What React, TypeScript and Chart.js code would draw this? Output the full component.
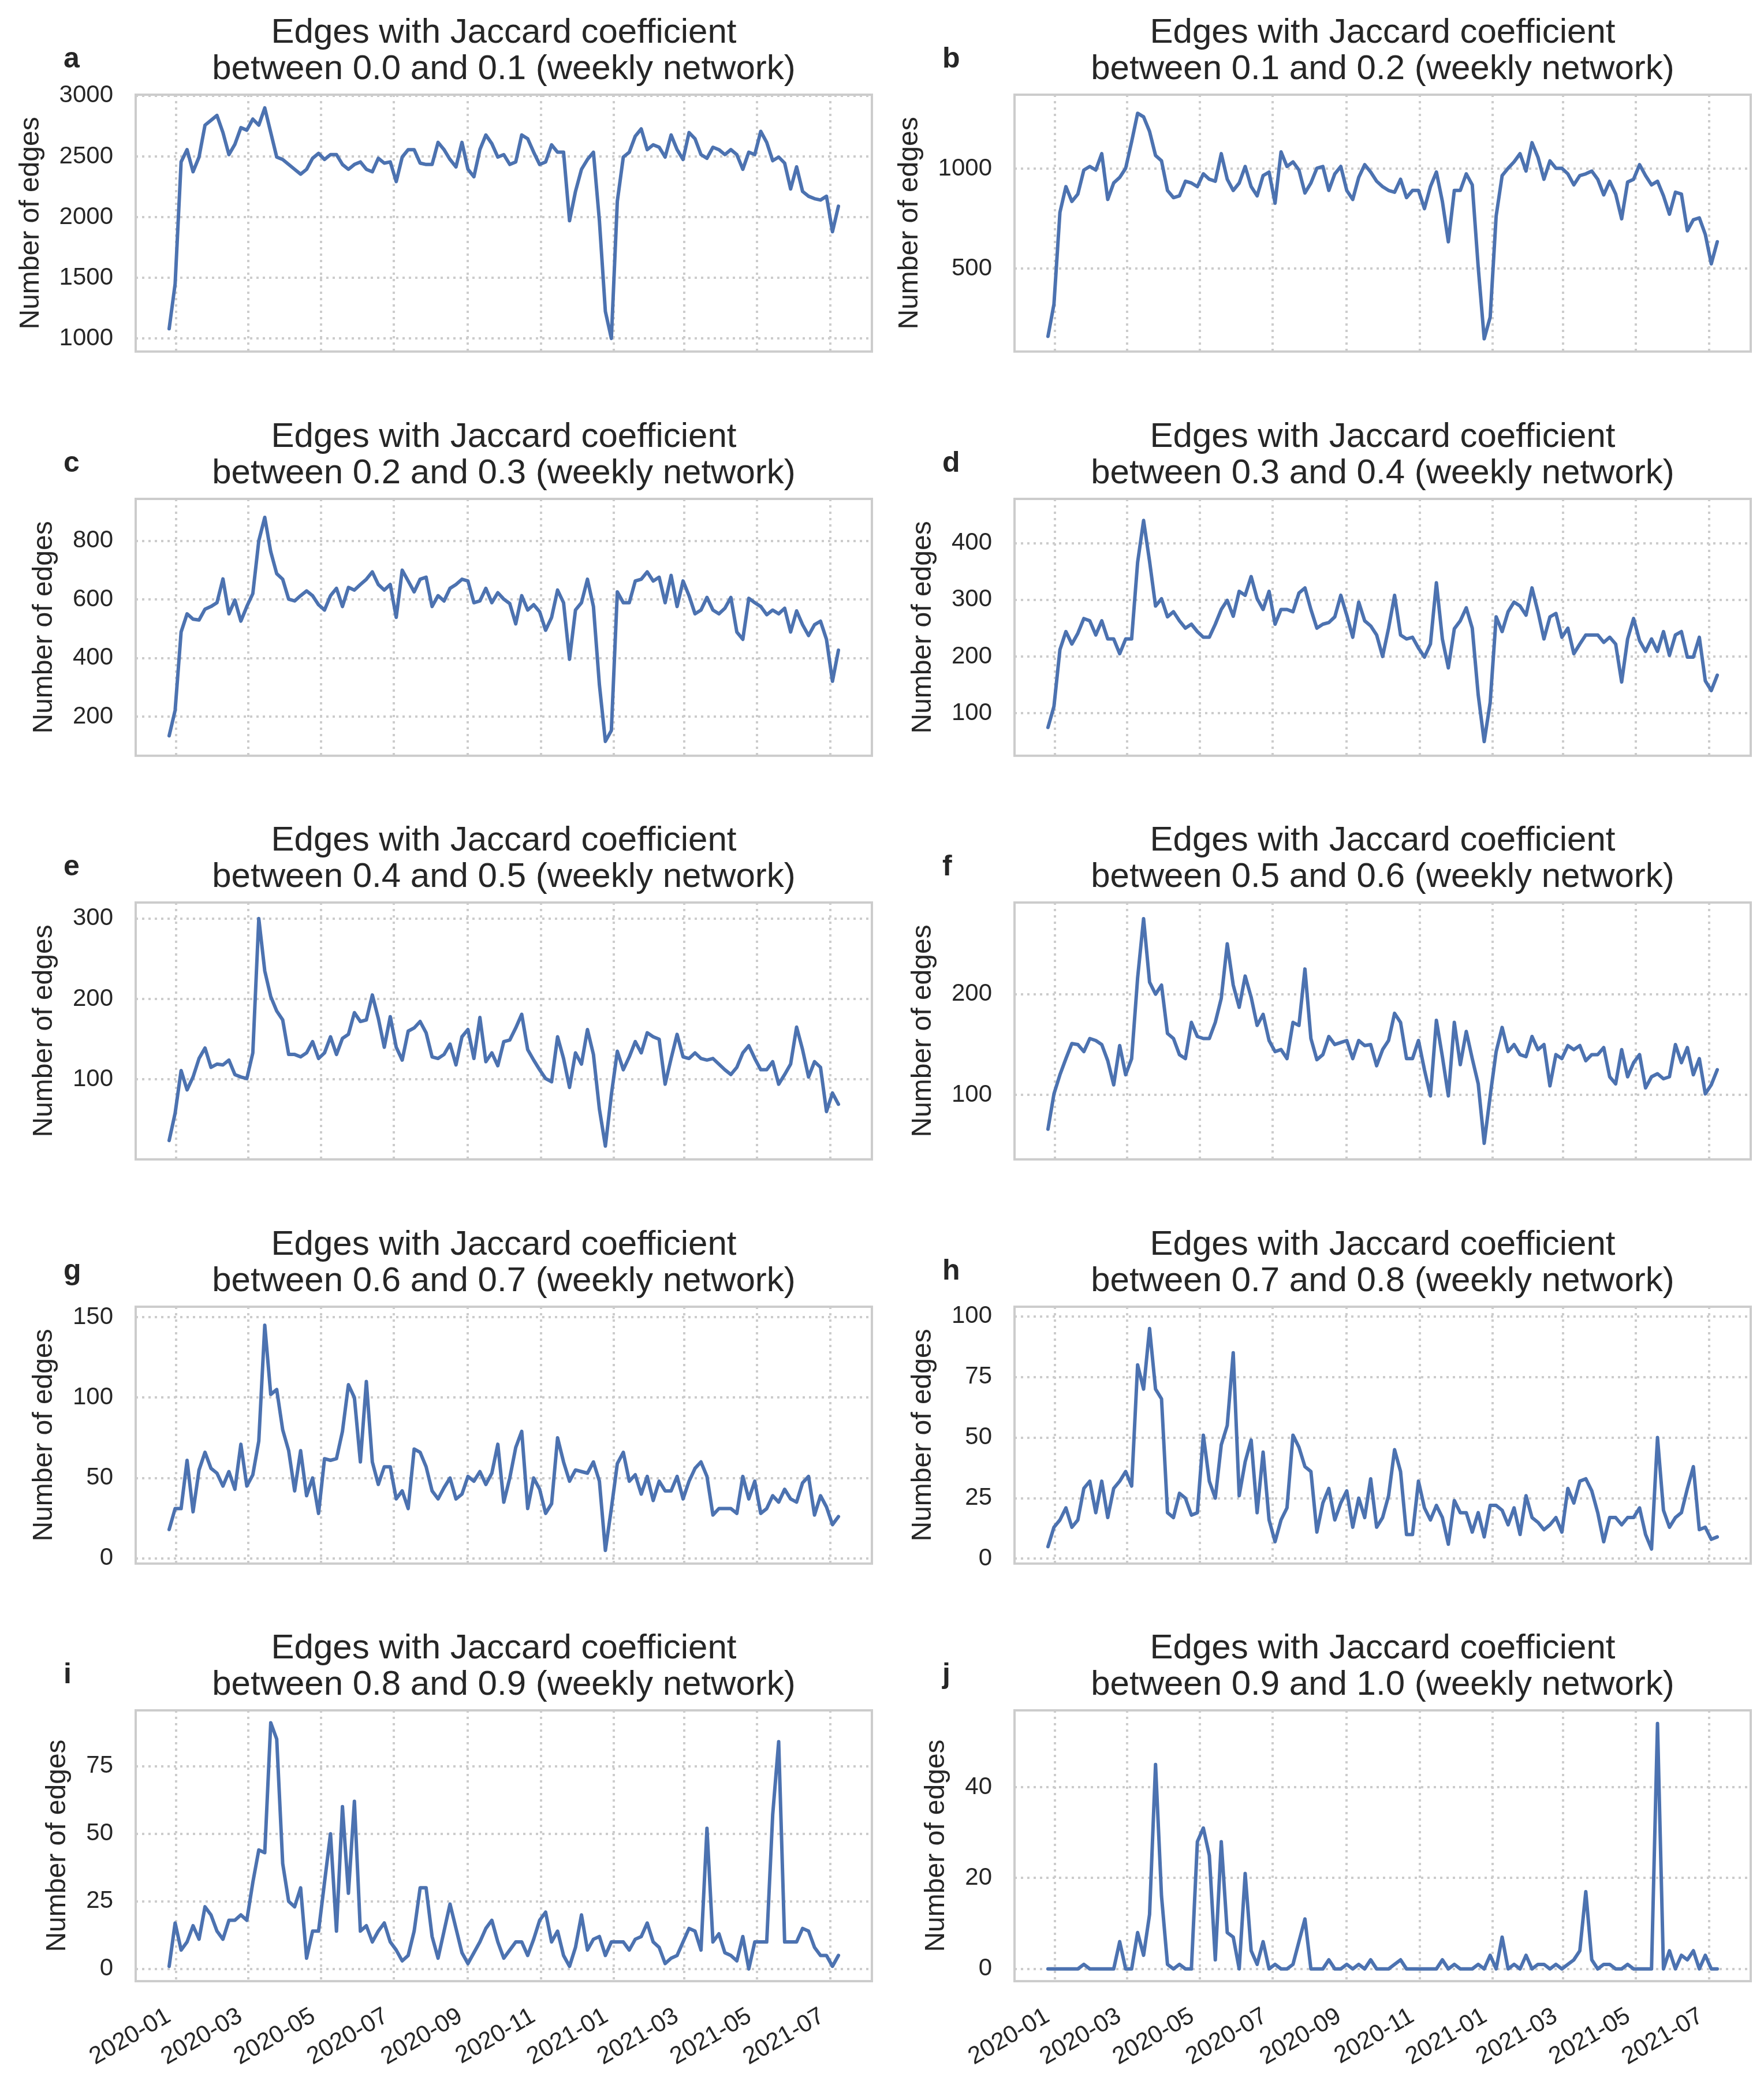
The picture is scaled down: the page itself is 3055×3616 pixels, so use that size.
import { useEffect, useRef } from "react";
import { Chart, registerables } from "chart.js";

Chart.register(...registerables);

// every 5th day of the daily series, starting 26 Dec 2019
const FIRST_DATE = "2019-12-26";
const STEP_DAYS = 5;

const xTickLabels = [
  "2020-01", "2020-03", "2020-05", "2020-07", "2020-09",
  "2020-11", "2021-01", "2021-03", "2021-05", "2021-07",
];

const panelLetters = ["a", "b", "c", "d", "e", "f", "g", "h", "i", "j"];
const binEdges = ["0.0", "0.1", "0.2", "0.3", "0.4", "0.5", "0.6", "0.7", "0.8", "0.9", "1.0"];

const jaccard00to01 = [
  1080, 1450, 2455, 2556, 2374, 2495, 2758, 2798, 2838, 2697,
  2515, 2600, 2737, 2717, 2808, 2758, 2900, 2697, 2495, 2475,
  2434, 2394, 2354, 2394, 2485, 2525, 2475, 2515, 2515, 2434,
  2394, 2434, 2455, 2394, 2374, 2485, 2445, 2455, 2293, 2495,
  2556, 2556, 2445, 2434, 2434, 2616, 2556, 2475, 2414, 2616,
  2394, 2333, 2556, 2677, 2606, 2495, 2515, 2434, 2455, 2677,
  2646, 2535, 2434, 2455, 2596, 2535, 2535, 1970, 2212, 2394,
  2475, 2535, 1970, 1222, 1000, 2131, 2495, 2535, 2667, 2727,
  2556, 2596, 2576, 2495, 2677, 2556, 2475, 2697, 2646, 2515,
  2485, 2576, 2556, 2515, 2556, 2515, 2394, 2535, 2515, 2707,
  2616, 2465, 2495, 2445, 2232, 2414, 2212, 2172, 2152, 2141,
  2172, 1880, 2090,
];

const jaccard01to02 = [
  162, 323, 782, 911, 837, 874, 994, 1012, 994, 1076,
  847, 930, 957, 1003, 1136, 1278, 1260, 1187, 1067, 1040,
  892, 856, 865, 938, 929, 911, 975, 948, 938, 1076,
  948, 892, 929, 1012, 911, 865, 966, 984, 828, 1085,
  1012, 1035, 994, 879, 929, 1003, 1012, 892, 975, 1012,
  892, 847, 957, 1021, 984, 938, 911, 892, 883, 948,
  856, 892, 892, 801, 911, 984, 837, 635, 892, 892,
  975, 920, 507, 150, 258, 764, 966, 1003, 1035, 1076,
  989, 1131, 1058, 948, 1040, 1003, 1003, 975, 920, 966,
  975, 989, 948, 870, 938, 874, 750, 934, 948, 1021,
  966, 920, 938, 865, 773, 883, 874, 690, 745, 755,
  672, 525, 635,
];

const jaccard02to03 = [
  135, 222, 489, 551, 533, 530, 567, 576, 589, 670,
  551, 598, 526, 576, 620, 800, 880, 763, 688, 669,
  601, 595, 613, 629, 613, 582, 564, 613, 638, 576,
  641, 632, 651, 669, 694, 651, 632, 651, 539, 700,
  663, 626, 669, 676, 576, 613, 595, 638, 651, 669,
  663, 589, 595, 638, 589, 623, 601, 586, 517, 613,
  564, 582, 558, 495, 539, 632, 589, 396, 564, 589,
  669, 576, 309, 116, 153, 626, 589, 589, 663, 669,
  694, 663, 676, 589, 682, 576, 663, 613, 551, 564,
  607, 564, 551, 570, 607, 489, 464, 604, 589, 576,
  548, 564, 551, 570, 489, 561, 514, 477, 514, 526,
  464, 321, 427,
];

const jaccard03to04 = [
  75, 112, 212, 244, 222, 241, 267, 263, 238, 263,
  231, 231, 205, 231, 231, 366, 440, 368, 289, 302,
  270, 279, 263, 250, 257, 244, 234, 234, 257, 283,
  299, 271, 315, 308, 341, 302, 283, 315, 257, 283,
  283, 279, 312, 321, 283, 250, 257, 260, 270, 308,
  273, 234, 296, 263, 254, 238, 200, 250, 308, 238,
  231, 234, 215, 199, 222, 330, 231, 180, 249, 263,
  286, 250, 132, 50, 119, 270, 244, 279, 296, 289,
  273, 321, 279, 231, 270, 276, 234, 250, 205, 222,
  238, 238, 238, 225, 234, 222, 155, 231, 267, 228,
  209, 231, 209, 244, 202, 238, 244, 199, 199, 234,
  157, 140, 167,
];

const jaccard04to05 = [
  24, 58, 111, 87, 103, 126, 139, 115, 119, 118,
  124, 106, 103, 101, 133, 300, 235, 203, 185, 174,
  131, 131, 128, 133, 147, 126, 133, 153, 131, 151,
  156, 183, 172, 174, 205, 176, 140, 178, 140, 124,
  160, 164, 172, 158, 128, 126, 131, 144, 118, 153,
  162, 126, 177, 122, 133, 117, 147, 149, 164, 181,
  137, 124, 112, 101, 97, 153, 126, 90, 133, 119,
  162, 131, 63, 17, 81, 135, 112, 128, 147, 133,
  158, 153, 150, 94, 126, 156, 128, 126, 133, 126,
  124, 126, 119, 112, 106, 115, 133, 142, 126, 112,
  112, 122, 94, 106, 119, 165, 137, 103, 122, 115,
  60, 83, 69,
];

const jaccard05to06 = [
  66, 101, 120, 136, 151, 150, 143, 156, 154, 150,
  134, 110, 149, 120, 136, 216, 275, 212, 200, 209,
  161, 156, 140, 136, 172, 158, 156, 156, 172, 196,
  250, 209, 187, 218, 197, 169, 180, 154, 143, 145,
  136, 172, 169, 225, 156, 135, 140, 158, 150, 152,
  154, 136, 154, 149, 150, 129, 145, 154, 181, 172,
  136, 136, 154, 125, 99, 174, 138, 99, 172, 130,
  163, 136, 111, 52, 99, 143, 167, 143, 150, 140,
  138, 158, 145, 150, 109, 140, 136, 149, 145, 149,
  134, 140, 140, 147, 118, 111, 145, 118, 132, 140,
  107, 118, 121, 116, 118, 150, 132, 147, 120, 136,
  101, 110, 125,
];

const jaccard06to07 = [
  18, 31, 31, 61, 29, 55, 66, 56, 53, 45,
  54, 43, 71, 45, 52, 73, 145, 102, 105, 80,
  67, 42, 67, 39, 50, 28, 62, 61, 62, 79,
  108, 100, 60, 110, 60, 46, 57, 57, 37, 42,
  31, 68, 66, 57, 42, 37, 44, 50, 37, 40,
  51, 48, 54, 46, 53, 71, 35, 50, 69, 79,
  31, 50, 43, 28, 34, 75, 60, 48, 55, 54,
  53, 60, 48, 5, 31, 59, 66, 48, 52, 40,
  51, 36, 48, 42, 42, 51, 37, 48, 56, 60,
  51, 27, 31, 31, 31, 28, 51, 37, 48, 28,
  31, 39, 35, 43, 37, 35, 47, 51, 27, 39,
  32, 21, 26,
];

const jaccard07to08 = [
  5, 13, 16, 21, 13, 16, 29, 32, 19, 32,
  17, 29, 32, 36, 30, 80, 70, 95, 70, 66,
  19, 17, 27, 25, 18, 19, 51, 32, 25, 47,
  55, 85, 26, 40, 49, 19, 44, 16, 7, 16,
  21, 51, 46, 38, 36, 11, 23, 29, 16, 23,
  28, 13, 25, 17, 33, 13, 17, 26, 45, 36,
  10, 10, 32, 21, 16, 22, 17, 6, 24, 19,
  19, 11, 19, 9, 22, 22, 20, 14, 21, 10,
  26, 17, 15, 12, 14, 17, 11, 29, 23, 32,
  33, 28, 19, 7, 17, 17, 14, 17, 17, 21,
  10, 4, 50, 20, 13, 17, 19, 29, 38, 12,
  13, 8, 9,
];

const jaccard08to09 = [
  1, 17, 7, 10, 16, 11, 23, 20, 14, 11,
  18, 18, 20, 18, 32, 44, 43, 91, 85, 39,
  25, 23, 30, 4, 14, 14, 32, 50, 14, 60,
  28, 62, 14, 16, 10, 14, 17, 10, 7, 3,
  5, 14, 30, 30, 12, 4, 14, 24, 15, 6,
  2, 6, 10, 15, 18, 10, 4, 7, 10, 10,
  5, 11, 18, 21, 10, 14, 5, 1, 8, 20,
  7, 11, 12, 5, 10, 10, 10, 7, 11, 12,
  17, 10, 8, 2, 4, 5, 10, 15, 14, 7,
  52, 10, 13, 6, 5, 3, 12, 0, 10, 10,
  10, 57, 84, 10, 10, 10, 15, 14, 8, 5,
  5, 1, 5,
];

const jaccard09to10 = [
  0, 0, 0, 0, 0, 0, 1, 0, 0, 0,
  0, 0, 6, 0, 0, 8, 3, 12, 45, 16,
  1, 0, 1, 0, 0, 28, 31, 25, 2, 28,
  8, 7, 0, 21, 4, 1, 6, 0, 1, 0,
  0, 1, 6, 11, 0, 0, 0, 2, 0, 0,
  1, 0, 1, 0, 2, 0, 0, 0, 1, 2,
  0, 0, 0, 0, 0, 0, 2, 0, 1, 0,
  0, 0, 1, 0, 3, 0, 7, 0, 1, 0,
  3, 0, 1, 1, 0, 1, 0, 1, 2, 4,
  17, 2, 0, 1, 1, 0, 0, 1, 0, 0,
  0, 0, 54, 0, 4, 0, 3, 2, 4, 0,
  3, 0, 0,
];

const seriesByBin = [
  jaccard00to01, jaccard01to02, jaccard02to03, jaccard03to04, jaccard04to05,
  jaccard05to06, jaccard06to07, jaccard07to08, jaccard08to09, jaccard09to10,
];

const yTickValues = [
  [1000, 1500, 2000, 2500, 3000],
  [500, 1000],
  [200, 400, 600, 800],
  [100, 200, 300, 400],
  [100, 200, 300],
  [100, 200],
  [0, 50, 100, 150],
  [0, 25, 50, 75, 100],
  [0, 25, 50, 75],
  [0, 20, 40],
];

// axis limits as matplotlib autoscaled them (data range + 5%)
const yLimits = [
  [892, 3009], [86, 1371], [67, 943], [25, 478], [0.5, 320],
  [36, 291], [-3.2, 156.5], [-2, 104], [-4.5, 95.6], [-2.7, 56.9],
];

const EPOCH = Date.UTC(2020, 0, 1);
const DAY_MS = 86400000;
function dayIndex(iso: string) {
  const [y, m, d] = iso.split("-").map(Number);
  return (Date.UTC(y, m - 1, d || 1) - EPOCH) / DAY_MS;
}
const firstDay = dayIndex(FIRST_DATE);
const sampleDays = jaccard00to01.map((_, i) => firstDay + i * STEP_DAYS);
const tickDays = xTickLabels.map(dayIndex);

const FONT = '"Liberation Sans", Arial, Helvetica, sans-serif';
const INK = "#262626";
const GRID = "#cccccc";

const PANEL_W = 1530;
const AXIS_LEFT = 235;
const AXIS_W = 1275;
const AXIS_TOP = 164;
const AXIS_H = 469;
const ROW_TOPS = [0, 700, 1399, 2099, 2798];
const COL_LEFTS = [0, 1522];

function JaccardPanel({ index }: { index: number }) {
  const canvasRef = useRef<HTMLCanvasElement | null>(null);
  const row = Math.floor(index / 2);
  const col = index % 2;
  const isBottom = row === 4;
  const xAxisH = isBottom ? 185 : 40;
  const height = AXIS_TOP + AXIS_H + xAxisH;

  useEffect(() => {
    const canvas = canvasRef.current;
    if (!canvas) return;
    const values = seriesByBin[index];
    const ticksY = yTickValues[index];
    const [yMin, yMax] = yLimits[index];
    const lines = [
      "Edges with Jaccard coefficient",
      `between ${binEdges[index]} and ${binEdges[index + 1]} (weekly network)`,
    ];

    const decor = {
      id: "decor",
      afterDraw(chart: Chart) {
        const { ctx, chartArea } = chart;
        ctx.save();
        ctx.strokeStyle = GRID;
        ctx.lineWidth = 4;
        ctx.strokeRect(
          chartArea.left,
          chartArea.top,
          chartArea.right - chartArea.left,
          chartArea.bottom - chartArea.top
        );

        ctx.fillStyle = INK;
        ctx.font = `60px ${FONT}`;
        ctx.textAlign = "center";
        ctx.textBaseline = "alphabetic";
        const cx = (chartArea.left + chartArea.right) / 2;
        ctx.fillText(lines[0], cx, 74);
        ctx.fillText(lines[1], cx, 137);

        ctx.font = `bold 50px ${FONT}`;
        ctx.textAlign = "left";
        ctx.fillText(panelLetters[index], 110, 117);

        ctx.font = `42px ${FONT}`;
        let widest = 0;
        for (const v of ticksY) widest = Math.max(widest, ctx.measureText(String(v)).width);
        const labelX = chartArea.left - 39 - widest - 36;
        ctx.font = `48px ${FONT}`;
        ctx.translate(labelX, (chartArea.top + chartArea.bottom) / 2);
        ctx.rotate(-Math.PI / 2);
        ctx.textAlign = "center";
        ctx.fillText("Number of edges", 0, 0);
        ctx.restore();
      },
    };

    const chart = new Chart(canvas, {
      type: "line",
      data: {
        datasets: [
          {
            data: sampleDays.map((x, i) => ({ x, y: values[i] })),
            borderColor: "#4c72b0",
            borderWidth: 6,
            borderJoinStyle: "round",
            borderCapStyle: "round",
            pointRadius: 0,
            tension: 0,
            fill: false,
          },
        ],
      },
      options: {
        animation: false,
        responsive: false,
        devicePixelRatio: 1,
        events: [],
        layout: { padding: { top: AXIS_TOP, left: 0, right: PANEL_W - AXIS_LEFT - AXIS_W, bottom: 0 } },
        plugins: { legend: { display: false }, tooltip: { enabled: false } },
        scales: {
          x: {
            type: "linear",
            min: -34,
            max: 582,
            afterBuildTicks: (scale) => {
              scale.ticks = tickDays.map((value) => ({ value }));
            },
            afterFit: (scale) => {
              scale.height = xAxisH;
            },
            ticks: {
              display: isBottom,
              autoSkip: false,
              minRotation: 30,
              maxRotation: 30,
              padding: 36,
              labelOffset: -13,
              color: INK,
              font: { family: FONT, size: 42 },
              callback: (_v, i) => xTickLabels[i],
            },
            grid: { color: GRID, lineWidth: 4, drawTicks: false },
            border: { display: false, dash: [4, 7] },
          },
          y: {
            type: "linear",
            min: yMin,
            max: yMax,
            afterBuildTicks: (scale) => {
              scale.ticks = ticksY.map((value) => ({ value }));
            },
            afterFit: (scale) => {
              scale.width = AXIS_LEFT;
            },
            ticks: {
              padding: 39,
              color: INK,
              font: { family: FONT, size: 42 },
              callback: (v) => String(v),
            },
            grid: { color: GRID, lineWidth: 4, drawTicks: false },
            border: { display: false, dash: [4, 7] },
          },
        },
      },
      plugins: [decor],
    });

    return () => {
      chart.destroy();
    };
  }, [index, xAxisH]);

  return (
    <canvas
      ref={canvasRef}
      width={PANEL_W}
      height={height}
      style={{
        position: "absolute",
        left: COL_LEFTS[col],
        top: ROW_TOPS[row],
        width: PANEL_W,
        height,
      }}
    />
  );
}

export default function App() {
  return (
    <div
      style={{
        position: "absolute",
        left: 0,
        top: 0,
        width: 3055,
        height: 3616,
        background: "#ffffff",
      }}
    >
      {panelLetters.map((letter, i) => (
        <JaccardPanel key={letter} index={i} />
      ))}
    </div>
  );
}
